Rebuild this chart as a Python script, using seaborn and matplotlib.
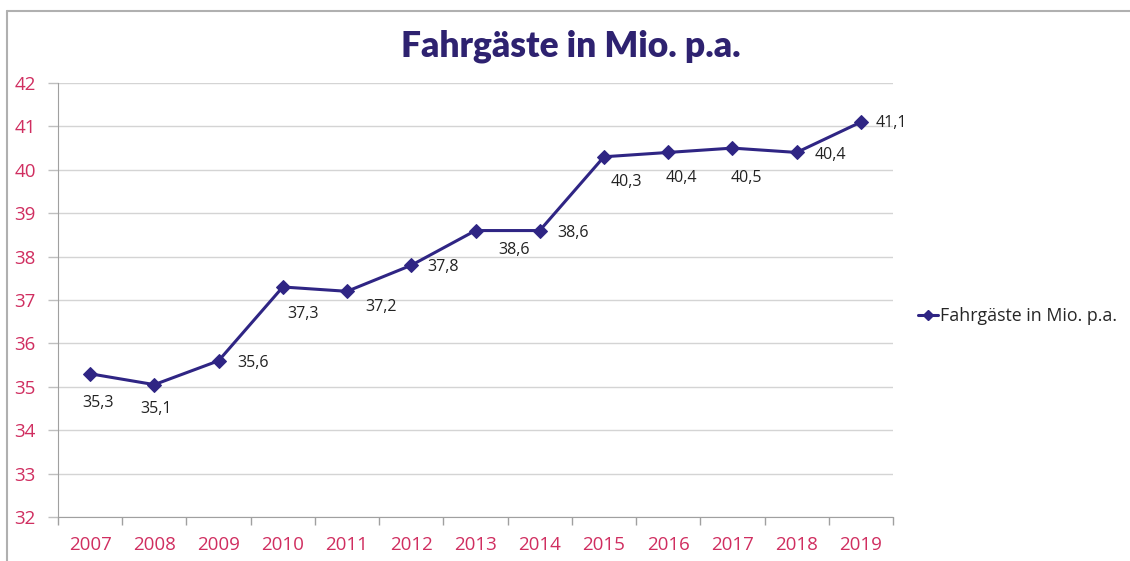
import pandas as pd
import matplotlib.pyplot as plt
import seaborn as sns
from matplotlib.lines import Line2D

years = ["2007", "2008", "2009", "2010", "2011", "2012", "2013",
         "2014", "2015", "2016", "2017", "2018", "2019"]
passengers = [35.3, 35.05, 35.6, 37.3, 37.2, 37.8, 38.6,
              38.6, 40.3, 40.4, 40.5, 40.4, 41.1]
labels = ["35,3", "35,1", "35,6", "37,3", "37,2", "37,8", "38,6",
          "38,6", "40,3", "40,4", "40,5", "40,4", "41,1"]
# label offsets in pixels (dx, dy)
offsets = [(8, -29), (2, -24), (34, -2), (20, -27), (34, -16), (32, -2),
           (39, -19), (33, -2), (22, -25), (13, -26), (14, -30), (34, -3), (30, -1)]

series = "Fahrgäste in Mio. p.a."
df = pd.DataFrame({"Jahr": years, series: passengers})

sns.set_style("white")
plt.rcParams["font.family"] = ["Open Sans", "DejaVu Sans"]

line_col = "#2F2584"
tick_col = "#D02E60"
grid_col = "#D4D4D4"

fig = plt.figure(figsize=(11.3, 5.61), dpi=100)
ax = fig.add_axes([58 / 1130, 1 - 517 / 561, (893 - 58) / 1130, (517 - 83) / 561])

sns.lineplot(data=df, x="Jahr", y=series, ax=ax, color=line_col, lw=2.2,
             marker="D", markersize=7, markeredgecolor=line_col, sort=False)

for i, (lab, (dx, dy)) in enumerate(zip(labels, offsets)):
    ax.annotate(lab, (i, passengers[i]), xytext=(dx, dy), textcoords="offset pixels",
                ha="center", va="center", fontsize=11.5, color="#222222")

ax.set_xlim(-0.5, len(years) - 0.5)
ax.set_ylim(32, 42)
ax.set_yticks(range(32, 43))
ax.yaxis.grid(True, color=grid_col, lw=1)
ax.xaxis.grid(False)

ax.set_xticks(range(len(years)))
ax.set_xticklabels(years)
ax.set_xticks([i - 0.5 for i in range(len(years) + 1)], minor=True)
ax.tick_params(axis="x", which="major", length=0, pad=14, labelsize=13.5, labelcolor=tick_col)
ax.tick_params(axis="x", which="minor", length=6, width=1, color="#A0A0A0", direction="out", bottom=True)
ax.tick_params(axis="y", length=7, width=1, color="#BFBFBF", direction="out", left=True,
               labelsize=13.5, labelcolor=tick_col, pad=9)

for s in ["top", "right"]:
    ax.spines[s].set_visible(False)
ax.spines["left"].set_color("#A0A0A0")
ax.spines["bottom"].set_color("#A0A0A0")
ax.set_xlabel("")
ax.set_ylabel("")

if ax.get_legend():
    ax.get_legend().remove()
handle = Line2D([], [], color=line_col, lw=2.2, marker="D", markersize=5)
fig.legend([handle], [series], loc="center left", bbox_to_anchor=(918 / 1130, 1 - 316 / 561),
           frameon=False, fontsize=12.8, handlelength=1.1, handletextpad=0.12,
           borderpad=0, borderaxespad=0)

fig.text(0.5055, 1 - 46 / 561, "Fahrgäste in Mio. p.a.", ha="center", va="center",
         fontsize=25.5, fontweight="heavy", family=["Lato", "DejaVu Sans"], color="#2E2270")

# outer frame
fig.add_artist(Line2D([7 / 1130, 7 / 1130], [0, 1 - 11 / 561], transform=fig.transFigure,
                      color="#B0B0B0", lw=1.5))
fig.add_artist(Line2D([7 / 1130, 1], [1 - 11 / 561, 1 - 11 / 561], transform=fig.transFigure,
                      color="#B0B0B0", lw=1.5))

fig.savefig("out.png", dpi=100)
plt.close(fig)
